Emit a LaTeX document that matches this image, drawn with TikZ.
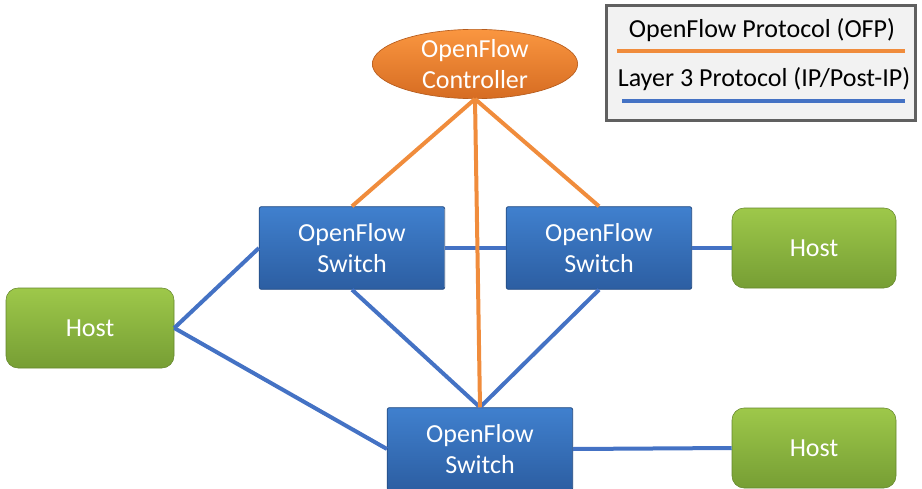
\documentclass[tikz,border=0pt]{standalone}
\usepackage{fontspec}
\setmainfont{Carlito}
\usetikzlibrary{shapes.geometric}

\definecolor{ofporange}{RGB}{240,140,60}
\definecolor{ipblue}{RGB}{68,114,196}
\definecolor{swtop}{RGB}{64,128,206}
\definecolor{swbot}{RGB}{44,94,162}
\definecolor{hosttop}{RGB}{158,200,74}
\definecolor{hostbot}{RGB}{118,158,52}
\definecolor{ctrltop}{RGB}{250,150,64}
\definecolor{ctrlbot}{RGB}{214,108,34}

\tikzset{
  switchbox/.style={rectangle,rounded corners=1.5pt,draw=swbot!80!black,line width=0.6pt,
    top color=swtop,bottom color=swbot,text=white,align=center,
    minimum width=139pt,minimum height=62pt,inner sep=0pt},
  hostbox/.style={rectangle,rounded corners=9pt,draw=hostbot!85!black,line width=0.4pt,
    top color=hosttop,bottom color=hostbot,text=white,
    minimum height=60pt,inner sep=0pt},
  ctrlnode/.style={ellipse,draw=ctrlbot!85!black,line width=0.5pt,
    top color=ctrltop,bottom color=ctrlbot,text=white,align=center,
    minimum width=154pt,minimum height=52pt,inner sep=0pt},
  ofp/.style={draw=ofporange,line width=3pt},
  ipl/.style={draw=ipblue,line width=3pt},
}

\begin{document}
\begin{tikzpicture}[x=0.75pt,y=-0.75pt,font=\fontsize{19.5}{23}\selectfont]
  \useasboundingbox (0,0) rectangle (922,489);
  % ---------- legend
  \node[draw=gray!75!black,line width=2.2pt,fill=gray!10,minimum width=232pt,minimum height=86pt,
    inner sep=0pt] (legend) at (761,63) {};
  \node[text=black] (ofptext) at (762,30) {OpenFlow Protocol (OFP)};
  \node[text=black] (iptext) at (764,79) {Layer 3 Protocol (IP/Post-IP)};
  \coordinate (ofpa) at (617,51);
  \coordinate (ofpb) at (905,51);
  \coordinate (ipa) at (622,101);
  \coordinate (ipb) at (905,101);
  \draw[ofp] (ofpa) -- (ofpb);
  \draw[ipl] (ipa) -- (ipb);
  % ---------- nodes
  \node[ctrlnode] (ctrl) at (475,64) {OpenFlow\\Controller};
  \node[switchbox] (swa) at (352,248) {OpenFlow\\Switch};
  \node[switchbox] (swb) at (599,248) {OpenFlow\\Switch};
  \node[switchbox] (swc) at (480,449) {OpenFlow\\Switch};
  \node[hostbox,minimum width=126pt] (hosta) at (90,328) {Host};
  \node[hostbox,minimum width=123pt] (hostb) at (814,248) {Host};
  \node[hostbox,minimum width=123pt] (hostc) at (814,448) {Host};
  % ---------- layer 3 links
  \draw[ipl] (hosta.east) -- (swa.west);
  \draw[ipl] (hosta.east) -- (swc.west);
  \draw[ipl] (swa.east) -- (swb.west);
  \draw[ipl] (swb.east) -- (hostb.west);
  \draw[ipl] (swa.south) -- (swc.north);
  \draw[ipl] (swb.south) -- (swc.north);
  \draw[ipl] (swc.east) -- (hostc.west);
  % ---------- controller links
  \draw[ofp] (ctrl.south) -- (swa.north);
  \draw[ofp] (ctrl.south) -- (swb.north);
  \draw[ofp] (ctrl.south) -- (swc.north);
\end{tikzpicture}
\end{document}
